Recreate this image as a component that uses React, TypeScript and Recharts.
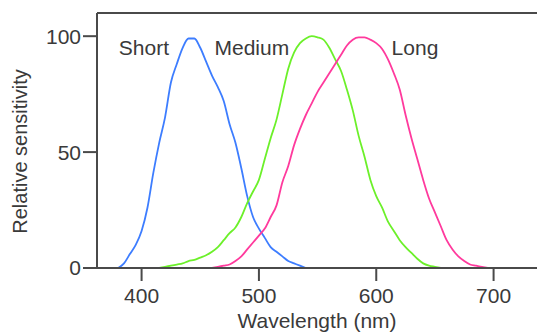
import React from "react";
import {
  LineChart,
  Line,
  XAxis,
  YAxis,
  ReferenceLine,
  ReferenceDot,
} from "recharts";

// Cone sensitivity curves (nm → relative %)
const shortNm = [380, 385, 390, 395, 400, 405, 410, 415, 420, 425, 430, 435, 440, 445, 450, 455, 460, 465, 470, 475, 480, 485, 490, 495, 500, 505, 510, 515, 520, 525, 530, 535, 540];
const shortValues = [0, 2, 6, 10, 16, 26, 41, 54, 65, 80, 88, 95, 99, 99, 95, 89, 83, 78, 72, 62, 54, 43, 31, 22, 17, 13, 9, 7, 5, 3, 2, 1, 0];

const mediumNm = [415, 420, 425, 430, 435, 440, 445, 450, 455, 460, 465, 470, 475, 480, 485, 490, 495, 500, 505, 510, 515, 520, 525, 530, 535, 540, 545, 550, 555, 560, 565, 570, 575, 580, 585, 590, 595, 600, 605, 610, 615, 620, 625, 630, 635, 640, 645, 650, 655];
const mediumValues = [0, 0.5, 1, 1.5, 2, 3, 3.5, 4.5, 5.5, 7, 9, 12, 15, 17.5, 22, 28, 33, 38, 47, 56, 64, 75, 86, 93, 97, 99, 100, 99.5, 98.5, 95, 90, 85, 77, 68, 57, 48, 38, 31, 26, 20, 16, 12, 9, 6.5, 4, 2, 1, 0.5, 0];

const longNm = [460, 465, 470, 475, 480, 485, 490, 495, 500, 505, 510, 515, 520, 525, 530, 535, 540, 545, 550, 555, 560, 565, 570, 575, 580, 585, 590, 595, 600, 605, 610, 615, 620, 625, 630, 635, 640, 645, 650, 655, 660, 665, 670, 675, 680, 685, 690, 695];
const longValues = [0, 0.5, 1, 1.5, 3, 5, 8, 11, 14, 17, 22, 27, 37, 44, 53, 60, 66, 71, 76, 80, 84, 88, 92, 96, 98.5, 99.5, 99.5, 98.5, 97, 94.5, 90, 84, 77, 66, 56, 47, 38, 30, 24, 18, 12, 8, 5, 3, 1.5, 1, 0.5, 0];

const seriesNames = ["Short", "Medium", "Long"];
const seriesColors = ["#3d7dff", "#6cf02a", "#ff3a9d"];
// where each name sits, in data units
const nameNm = [402, 494, 633];
const nameValue = [95, 95, 95];

const xTicks = [400, 500, 600, 700];
const yTicks = [0, 50, 100];

const FONT = "'Liberation Sans', Arial, sans-serif";
const TEXT = "#3a3a3a";
const AXIS = "#4a4a4a";

const toRows = (nm: number[], vals: number[]) => nm.map((w, i) => ({ nm: w, v: vals[i] }));

const series = [
  toRows(shortNm, shortValues),
  toRows(mediumNm, mediumValues),
  toRows(longNm, longValues),
];

function YLabel(props: any) {
  const vb = props.viewBox || { x: 0, y: 0, width: 0, height: 0 };
  const cx = vb.x + 20;
  const cy = vb.y + vb.height / 2 + 11;
  return (
    <text
      x={cx}
      y={cy}
      transform={`rotate(-90 ${cx} ${cy})`}
      textAnchor="middle"
      dominantBaseline="central"
      fill={TEXT}
      fontSize={20}
      fontFamily={FONT}
    >
      Relative sensitivity
    </text>
  );
}

export default function App() {
  return (
    <div style={{ position: "absolute", left: 0, top: 0, background: "#fff" }}>
      <LineChart width={537} height={333} margin={{ top: 13, right: 0, left: 0, bottom: 0 }}>
        <XAxis
          type="number"
          dataKey="nm"
          domain={[362, 737]}
          ticks={xTicks}
          allowDataOverflow
          height={65}
          stroke={AXIS}
          strokeWidth={2}
          tickSize={13}
          tickMargin={7}
          tickLine={{ stroke: AXIS, strokeWidth: 2 }}
          tick={{ fill: TEXT, fontSize: 21, fontFamily: FONT }}
          label={{
            value: "Wavelength (nm)",
            position: "insideBottom",
            offset: 5,
            fill: TEXT,
            fontSize: 21,
            fontFamily: FONT,
          }}
        />
        <YAxis
          type="number"
          dataKey="v"
          domain={[0, 110]}
          ticks={yTicks}
          allowDataOverflow
          width={97}
          stroke={AXIS}
          strokeWidth={2}
          tickSize={14}
          tickMargin={2}
          tickLine={{ stroke: AXIS, strokeWidth: 2 }}
          tick={{ fill: TEXT, fontSize: 21, fontFamily: FONT }}
          label={<YLabel />}
        />
        <ReferenceLine y={110} stroke={AXIS} strokeWidth={2} />
        {series.map((rows, i) => (
          <Line
            key={seriesNames[i]}
            data={rows}
            dataKey="v"
            name={seriesNames[i]}
            type="monotone"
            stroke={seriesColors[i]}
            strokeWidth={1.8}
            dot={false}
            activeDot={false}
            isAnimationActive={false}
          />
        ))}
        {seriesNames.map((name, i) => (
          <ReferenceDot
            key={name}
            x={nameNm[i]}
            y={nameValue[i]}
            r={0}
            stroke="none"
            fill="none"
            label={{ value: name, position: "center", fill: TEXT, fontSize: 21, fontFamily: FONT }}
          />
        ))}
      </LineChart>
    </div>
  );
}
